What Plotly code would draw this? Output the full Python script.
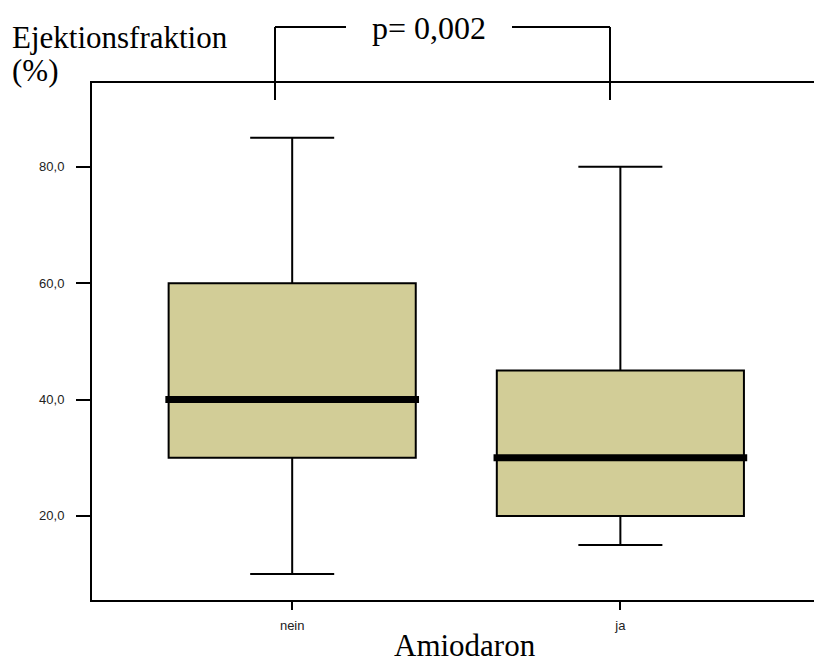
import plotly.graph_objects as go

categories = ["nein", "ja"]
lower_whisker = [10, 15]
q1 = [30, 20]
median = [40, 30]
q3 = [60, 45]
upper_whisker = [85, 80]
y_ticks = [20, 40, 60, 80]
y_ticktext = ["20,0", "40,0", "60,0", "80,0"]
p_text = "p= 0,002"

positions = list(range(len(categories)))
box_width = 0.753
fill = "#d2cd97"

fig = go.Figure()
for i, c in enumerate(categories):
    fig.add_trace(go.Box(
        x=[positions[i]], q1=[q1[i]], median=[median[i]], q3=[q3[i]],
        lowerfence=[lower_whisker[i]], upperfence=[upper_whisker[i]],
        width=box_width, whiskerwidth=0.34, fillcolor=fill,
        line=dict(color="black", width=2), boxpoints=False,
        showlegend=False, hoverinfo="skip", name=c))
    ext = box_width / 2 + 0.01
    fig.add_trace(go.Scatter(
        x=[positions[i] - ext, positions[i] + ext], y=[median[i], median[i]],
        mode="lines", line=dict(color="black", width=7),
        showlegend=False, hoverinfo="skip"))

serif = "Liberation Serif, Times New Roman, Times, serif"
sans = "Liberation Sans, Arial, Helvetica, sans-serif"
fig.update_layout(
    width=814, height=664,
    margin=dict(l=92, r=0, t=83, b=64),
    paper_bgcolor="white", plot_bgcolor="white",
    xaxis=dict(range=[-0.61, 1.59], tickvals=positions, ticktext=categories,
               showline=True, linecolor="black", linewidth=2, mirror=True,
               ticks="outside", ticklen=8, tickwidth=2, tickcolor="black",
               ticklabelstandoff=4, showgrid=False, zeroline=False,
               tickfont=dict(family=sans, size=13, color="#222")),
    yaxis=dict(range=[5.55, 94.4], tickvals=y_ticks, ticktext=y_ticktext,
               showline=True, linecolor="black", linewidth=2,
               ticks="outside", ticklen=14, tickwidth=2, tickcolor="black",
               ticklabelstandoff=9, showgrid=False, zeroline=False,
               tickfont=dict(family=sans, size=13, color="#222")),
)

def px(x):
    return (x - 92) / 722

def py(y):
    return (600 - y) / 517

bracket = dict(color="black", width=2)
for (x0, y0, x1, y1) in [(275, 100, 275, 27), (275, 27, 346, 27),
                         (512, 27, 610, 27), (610, 27, 610, 100)]:
    fig.add_shape(type="line", xref="paper", yref="paper",
                  x0=px(x0), y0=py(y0), x1=px(x1), y1=py(y1), line=bracket)

fig.add_annotation(text=p_text, xref="paper", yref="paper", x=px(429), y=py(28),
                   xanchor="center", yanchor="middle", showarrow=False,
                   font=dict(family=serif, size=32, color="black"))
fig.add_annotation(text="Ejektionsfraktion", xref="paper", yref="paper",
                   x=px(10), y=py(37), xanchor="left", yanchor="middle",
                   showarrow=False, font=dict(family=serif, size=31, color="black"))
fig.add_annotation(text="(%)", xref="paper", yref="paper",
                   x=px(10), y=py(71), xanchor="left", yanchor="middle",
                   showarrow=False, font=dict(family=serif, size=31, color="black"))
fig.add_annotation(text="Amiodaron", xref="paper", yref="paper",
                   x=px(465), y=py(664), xanchor="center", yanchor="bottom",
                   showarrow=False, borderpad=0,
                   font=dict(family=serif, size=31, color="black"))

fig.write_html("out.html")
